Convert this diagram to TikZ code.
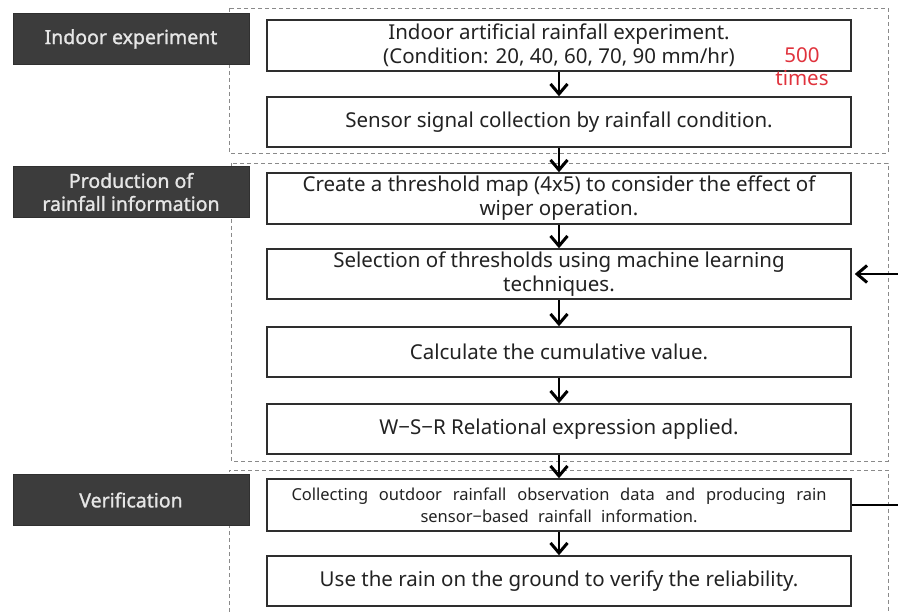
\documentclass[tikz,border=0pt]{standalone}
\usepackage{fontspec}
\setmainfont{Noto Sans}
\newfontfamily\labfont[FakeBold=1.3]{Noto Sans}
\usetikzlibrary{arrows.meta}
\definecolor{labfill}{HTML}{3C3C3C}
\definecolor{labtext}{HTML}{E6E6E6}
\definecolor{boxline}{HTML}{2E2E2E}
\definecolor{txt}{HTML}{222222}
\definecolor{dashc}{HTML}{8A8A8A}
\definecolor{redtxt}{HTML}{E0323C}
\begin{document}
\begin{tikzpicture}[x=1pt,y=-1pt,
 proc/.style={draw=boxline, line width=1.5pt, fill=white, minimum width=584pt, inner sep=0pt, align=center, text=txt, font=\fontsize{20.5}{24}\selectfont},
 lab/.style={fill=labfill, draw=labfill!80!black, minimum width=236pt, minimum height=51pt, inner sep=0pt, align=center, text=labtext, font=\labfont\fontsize{19.5}{23}\selectfont},
 grp/.style={draw=dashc, dash pattern=on 4pt off 3pt, line width=0.8pt},
 flow/.style={draw=black, line width=2.8pt, -{Straight Barb[length=10pt,width=17pt,line width=3pt]}}
]
\useasboundingbox (0,0) rectangle (898,612);
% groups
\draw[grp] (229,8) rectangle (888,153);
\draw[grp] (231,163) rectangle (888,461);
\draw[grp] (229,612) -- (229,470) -- (888,470) -- (888,612);
% labels
\node[lab] (l1) at (131,39) {Indoor experiment};
\node[lab] (l2) at (131,192) {Production of\\rainfall information};
\node[lab] (l3) at (131,500) {Verification};
% process boxes
\node[proc, minimum height=51pt] (b1) at (559,45.5) {Indoor artificial rainfall experiment.\\(Condition: 20, 40, 60, 70, 90 mm/hr)};
\node[proc, minimum height=50pt] (b2) at (559,122) {Sensor signal collection by rainfall condition.};
\node[proc, minimum height=51pt] (b3) at (559,198.5) {Create a threshold map (4x5) to consider the effect of\\wiper operation.};
\node[proc, minimum height=50pt] (b4) at (559,274) {Selection of thresholds using machine learning\\techniques.};
\node[proc, minimum height=50pt] (b5) at (559,352) {Calculate the cumulative value.};
\node[proc, minimum height=50pt] (b6) at (559,429) {W−S−R Relational expression applied.};
\node[proc, minimum height=52pt, font=\fontsize{16.5}{22}\selectfont] (b7) at (559,505) {\makebox[535pt][s]{Collecting outdoor rainfall observation data and producing rain}\\\makebox[277pt][s]{sensor−based rainfall information.}};
\node[proc, minimum height=50pt] (b8) at (559,581) {Use the rain on the ground to verify the reliability.};
% repeat note
\node[text=redtxt, align=center, inner sep=0pt, font=\fontsize{20.5}{23}\selectfont] (rep) at (802,67) {500\\times};
% flow arrows
\draw[flow] (b1.south) -- (b2.north);
\draw[flow] (b2.south) -- (b3.north);
\draw[flow] (b3.south) -- (b4.north);
\draw[flow] (b4.south) -- (b5.north);
\draw[flow] (b5.south) -- (b6.north);
\draw[flow] (b6.south) -- (b7.north);
\draw[flow] (b7.south) -- (b8.north);
% feedback
\coordinate (fb4) at (898,274);
\coordinate (fb7) at (898,505);
\draw[flow, line width=2.2pt, shorten >=3pt] (fb4) -- (b4.east);
\draw[line width=2.2pt] (b7.east) -- (fb7);
\end{tikzpicture}
\end{document}
